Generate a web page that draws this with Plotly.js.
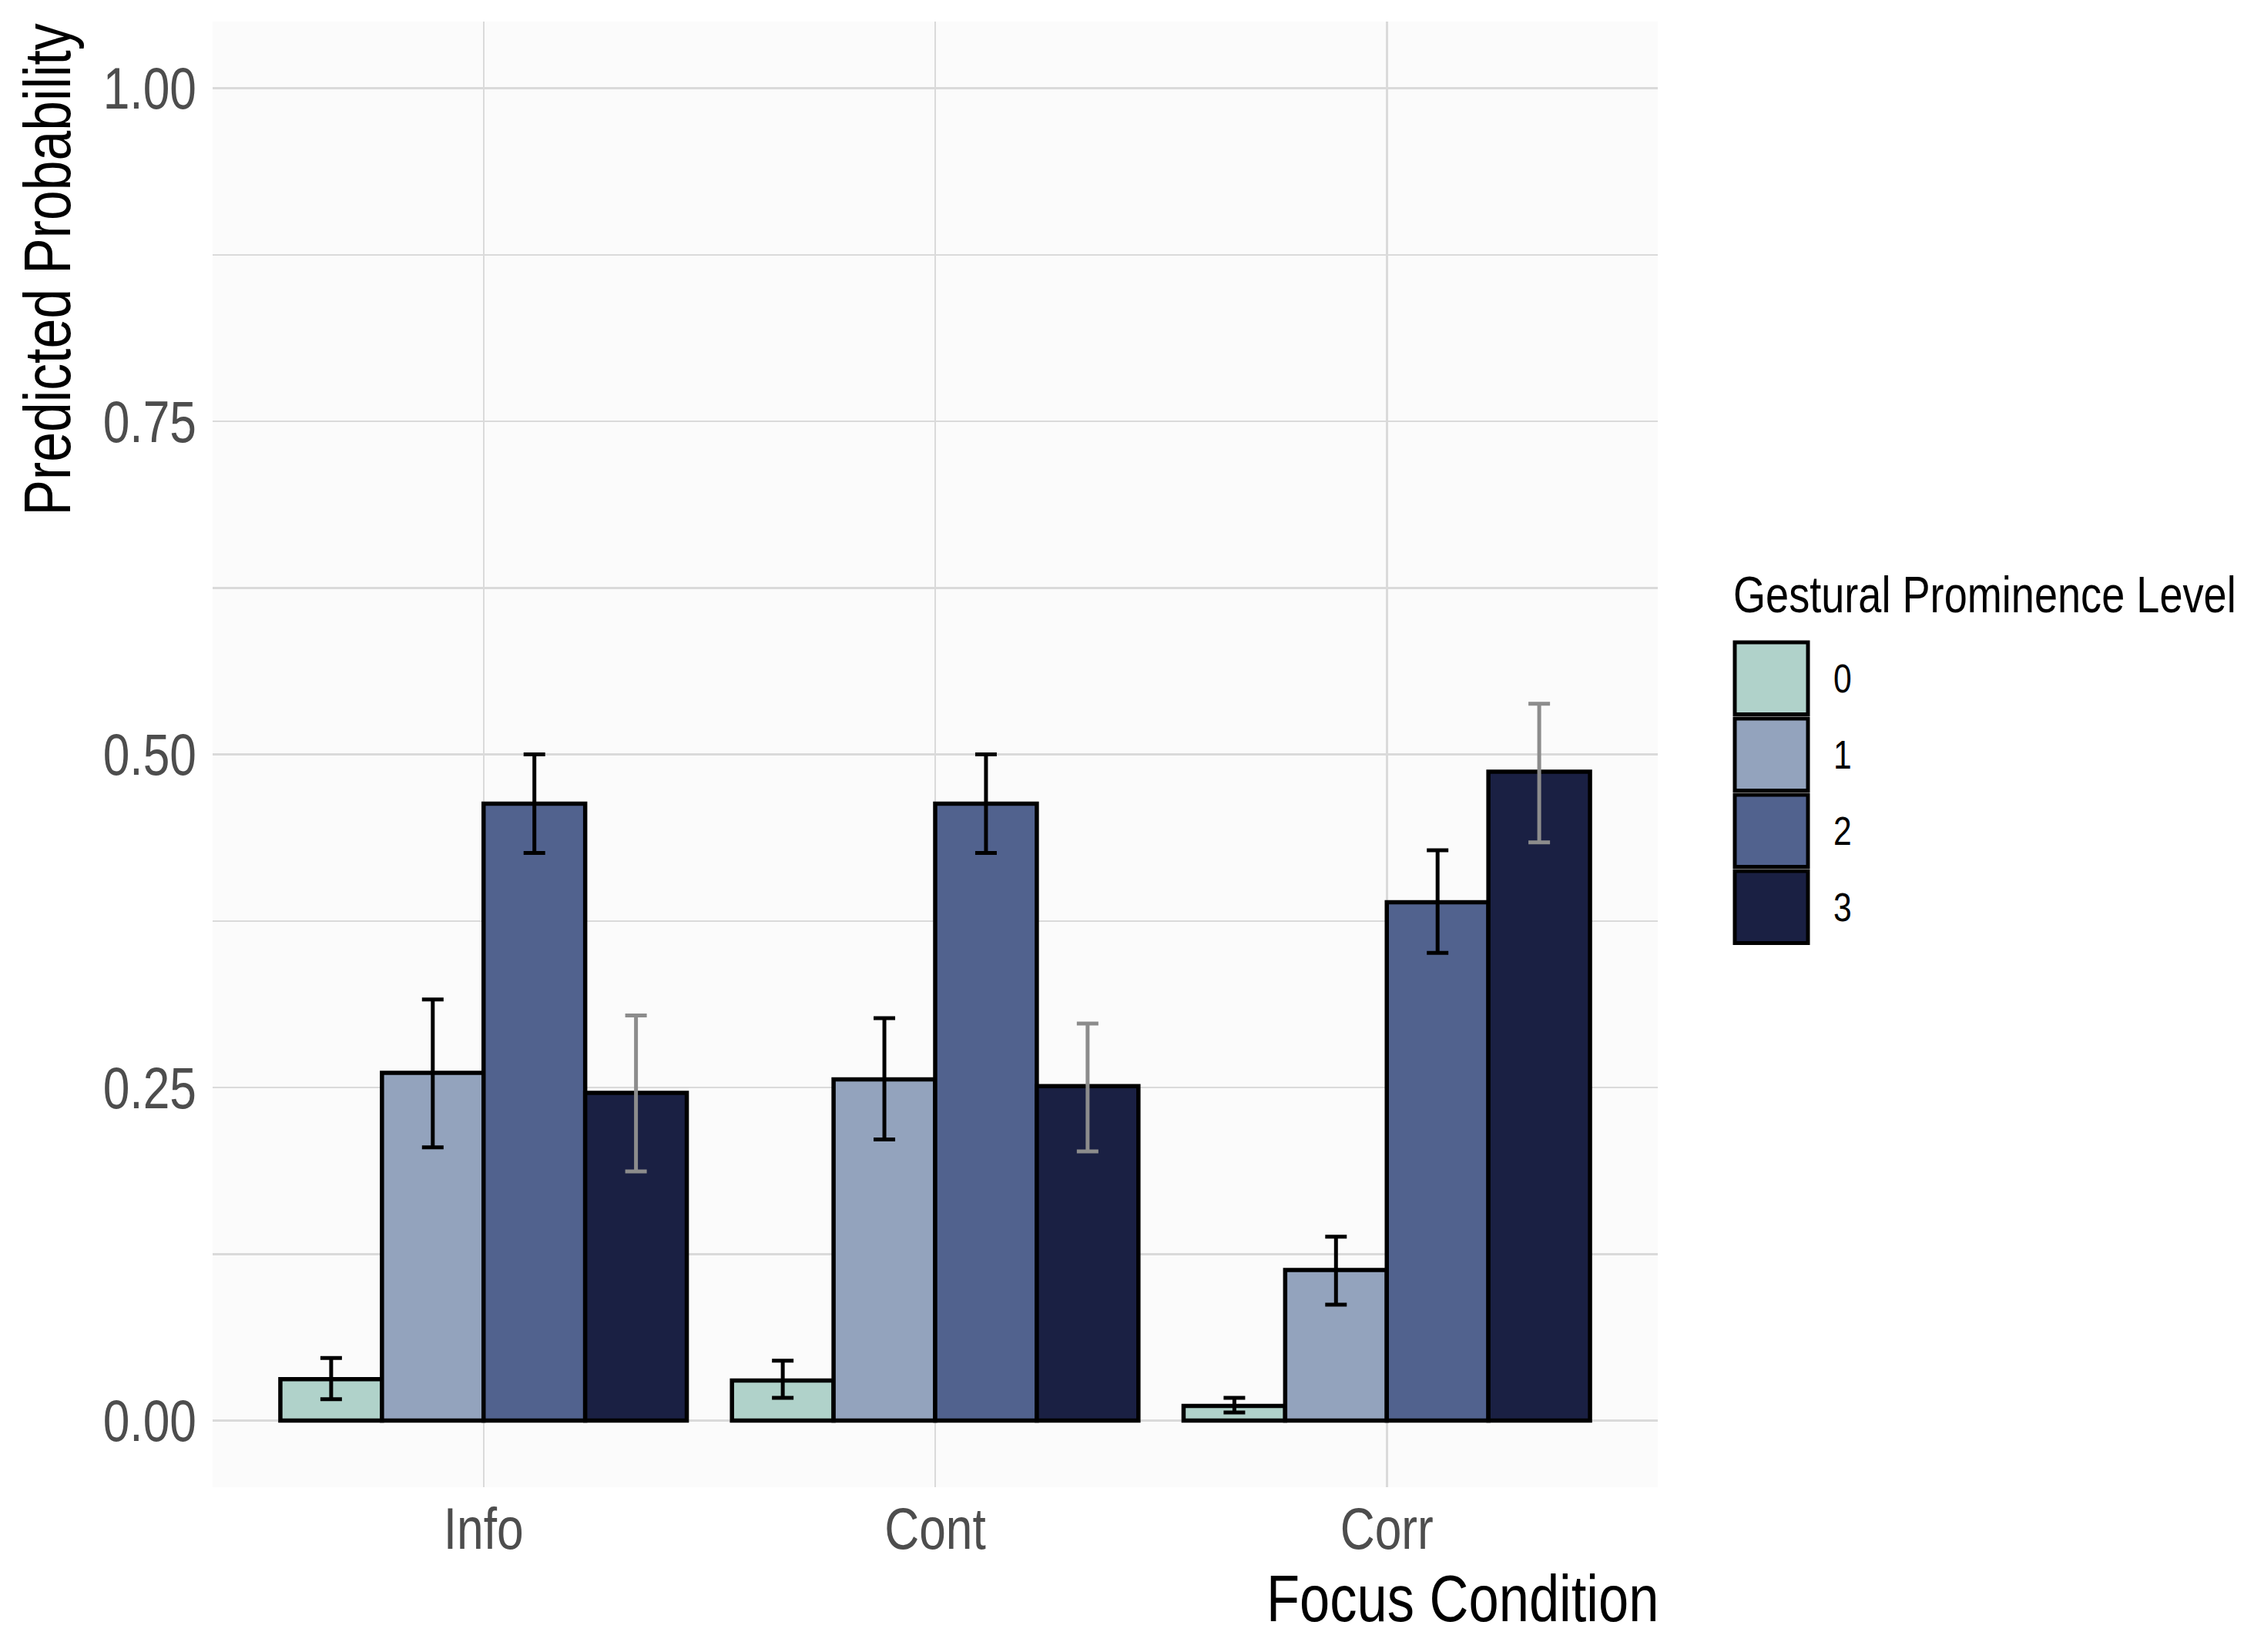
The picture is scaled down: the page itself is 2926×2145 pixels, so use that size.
<!DOCTYPE html>
<html>
<head>
<meta charset="utf-8">
<script src="https://cdn.plot.ly/plotly-3.0.1.min.js"></script>
<style>html,body{margin:0;padding:0;background:#fff;}#chart{width:2926px;height:2145px;}</style>
</head>
<body>
<div id="chart"></div>
<script>
// ---- data ----
const categories = ['Info', 'Cont', 'Corr'];
const levels = ['0', '1', '2', '3'];
const prob0 = [0.031, 0.030, 0.011];
const lower0 = [0.016, 0.017, 0.006];
const upper0 = [0.047, 0.045, 0.017];
const prob1 = [0.261, 0.256, 0.113];
const lower1 = [0.205, 0.211, 0.087];
const upper1 = [0.316, 0.302, 0.138];
const prob2 = [0.463, 0.463, 0.389];
const lower2 = [0.426, 0.426, 0.351];
const upper2 = [0.500, 0.500, 0.428];
const prob3 = [0.246, 0.251, 0.487];
const lower3 = [0.187, 0.202, 0.434];
const upper3 = [0.304, 0.298, 0.538];
const yTickVals = [0, 0.25, 0.5, 0.75, 1.0];
const yTickText = ['0.00', '0.25', '0.50', '0.75', '1.00'];
const xTitle = 'Focus Condition';
const yTitle = 'Predicted Probability';
const legendTitle = 'Gestural Prominence Level';

// ---- styling ----
const fillColors = ['#B0D2CA', '#93A3BD', '#51628E', '#1A2043'];
const errColors = ['#000000', '#000000', '#000000', '#8C8C8C'];
const FONT = '"Liberation Sans", Arial, sans-serif';
// narrow-face look: glyph advance = 0.82 of regular at the visual size,
// obtained by a smaller font stretched back to full height
const NARROW = 0.82;
const fs = s => +(s * NARROW).toFixed(2);

const W = 2926, H = 2145;
const L = 276, R = 2152, T = 28, B = 1931;
const px2x = p => (p - L) / (R - L);
const px2y = p => (B - p) / (B - T);

const series = [
  {v: prob0, lo: lower0, hi: upper0},
  {v: prob1, lo: lower1, hi: upper1},
  {v: prob2, lo: lower2, hi: upper2},
  {v: prob3, lo: lower3, hi: upper3}
];

const traces = series.map((s, i) => ({
  type: 'bar',
  name: levels[i],
  x: categories,
  y: s.v,
  marker: {color: fillColors[i], line: {color: '#000000', width: 5.5}},
  error_y: {
    type: 'data', symmetric: false,
    array: s.hi.map((h, k) => h - s.v[k]),
    arrayminus: s.v.map((v, k) => v - s.lo[k]),
    color: errColors[i], thickness: 5, width: 14
  },
  showlegend: false,
  hoverinfo: 'skip'
}));

// custom legend (large keys as in the reference)
const shapes = [];
const annotations = [];
const keyLeft = 2252, keyRight = 2347, keyTop0 = 834, keyH = 93.5, keyPitch = 99;
levels.forEach((lev, i) => {
  const top = keyTop0 + i * keyPitch;
  shapes.push({
    type: 'rect', xref: 'paper', yref: 'paper',
    x0: px2x(keyLeft), x1: px2x(keyRight), y0: px2y(top + keyH), y1: px2y(top),
    fillcolor: fillColors[i], line: {color: '#000000', width: 5}, layer: 'above'
  });
  annotations.push({
    xref: 'paper', yref: 'paper', x: px2x(2378), y: px2y(top + keyH / 2),
    xanchor: 'left', yanchor: 'middle', showarrow: false,
    text: lev, font: {family: FONT, size: fs(52), color: '#000000'}
  });
});
annotations.push({
  xref: 'paper', yref: 'paper', x: px2x(2248), y: px2y(772),
  xanchor: 'left', yanchor: 'middle', showarrow: false,
  text: legendTitle, font: {family: FONT, size: fs(66), color: '#000000'}
});
annotations.push({
  xref: 'paper', yref: 'paper', x: px2x(2155), y: px2y(2074),
  xanchor: 'right', yanchor: 'middle', showarrow: false,
  text: xTitle, font: {family: FONT, size: fs(86), color: '#000000'}
});
annotations.push({
  xref: 'paper', yref: 'paper', x: px2x(62), y: px2y(29),
  xanchor: 'center', yanchor: 'top', showarrow: false, textangle: -90,
  text: yTitle, font: {family: FONT, size: fs(85), color: '#000000'}
});

const layout = {
  width: W, height: H,
  margin: {l: L, r: W - R, t: T, b: H - B, pad: 0},
  paper_bgcolor: '#FFFFFF',
  plot_bgcolor: '#FBFBFB',
  barmode: 'group', bargap: 0.1, bargroupgap: 0,
  font: {family: FONT, color: '#4D4D4D'},
  xaxis: {
    type: 'category', range: [-0.6, 2.6],
    showgrid: true, gridcolor: '#DADADA', gridwidth: 2.5,
    showline: false, zeroline: false, ticks: '',
    tickfont: {family: FONT, size: fs(76), color: '#4D4D4D'},
    ticklabelstandoff: 12
  },
  yaxis: {
    range: [-0.05, 1.05],
    tickvals: yTickVals, ticktext: yTickText,
    showgrid: true, gridcolor: '#DADADA', gridwidth: 2.5,
    minor: {tickvals: [0.125, 0.375, 0.625, 0.875], showgrid: true, gridcolor: '#DADADA', gridwidth: 2.5, ticks: ''},
    showline: false, zeroline: false, ticks: '',
    tickfont: {family: FONT, size: fs(76), color: '#4D4D4D'},
    ticklabelstandoff: 20
  },
  shapes: shapes,
  annotations: annotations,
  showlegend: false
};

Plotly.newPlot('chart', traces, layout, {staticPlot: true, displayModeBar: false}).then(() => {
  const k = 1 / NARROW;
  document.querySelectorAll('#chart svg text').forEach(t => {
    if (!t.textContent.trim()) return;
    const size = parseFloat(getComputedStyle(t).fontSize) || 0;
    let base = parseFloat(t.getAttribute('y'));
    if (!isFinite(base)) {
      const bb = t.getBBox();
      base = bb.y + bb.height * 0.81;
    }
    const yc = base - 0.358 * size; // cap-height centre stays in place
    const prev = t.getAttribute('transform') || '';
    t.setAttribute('transform', (prev + ' translate(0,' + yc + ') scale(1,' + k.toFixed(4) + ') translate(0,' + (-yc) + ')').trim());
  });
});
</script>
</body>
</html>
